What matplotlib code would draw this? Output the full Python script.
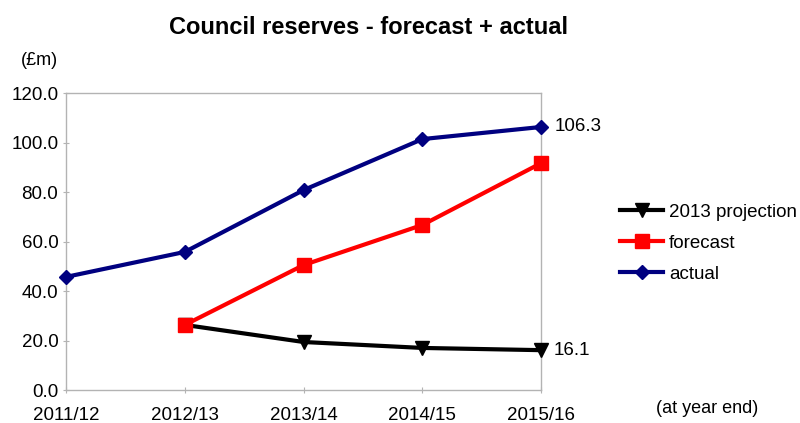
import matplotlib
matplotlib.use("Agg")
import matplotlib.pyplot as plt

plt.rcParams['font.family'] = ['Liberation Sans', 'DejaVu Sans']

categories = ["2011/12", "2012/13", "2013/14", "2014/15", "2015/16"]
projection_2013 = [None, 26.3, 19.4, 17.0, 16.1]
forecast = [None, 26.3, 50.5, 66.7, 91.7]
actual = [45.7, 55.8, 80.8, 101.4, 106.3]
yticks = [0, 20, 40, 60, 80, 100, 120]

fig = plt.figure(figsize=(8, 4.23), dpi=100)
ax = fig.add_axes([0.0825, 0.078, 0.594, 0.702])

x = list(range(len(categories)))

def xy(vals):
    xs = [i for i, v in zip(x, vals) if v is not None]
    ys = [v for v in vals if v is not None]
    return xs, ys

xs, ys = xy(projection_2013)
ax.plot(xs, ys, color='black', lw=3, marker='v', ms=10, label='2013 projection', zorder=3, clip_on=False)
xs, ys = xy(forecast)
ax.plot(xs, ys, color='#ff0000', lw=3, marker='s', ms=10, label='forecast', zorder=4, clip_on=False)
xs, ys = xy(actual)
ax.plot(xs, ys, color='#000080', lw=3, marker='D', ms=7, label='actual', zorder=5, clip_on=False)

ax.set_xlim(0, len(categories) - 1)
ax.set_ylim(0, 120)
ax.set_xticks(x)
ax.set_xticklabels(categories)
ax.set_yticks(yticks)
ax.set_yticklabels([f"{v:.1f}" for v in yticks])
ax.tick_params(axis='both', colors='#b3b3b3', labelcolor='black', labelsize=13.5, length=5, direction='inout')
ax.tick_params(axis='x', pad=10)
ax.tick_params(axis='y', pad=3)
for s in ax.spines.values():
    s.set_color('#b3b3b3')
    s.set_linewidth(1)

ax.annotate(f"{actual[-1]:.1f}", (x[-1], actual[-1]), xytext=(10, 0), textcoords='offset points',
            va='center', ha='left', fontsize=13.5, annotation_clip=False)
ax.annotate(f"{projection_2013[-1]:.1f}", (x[-1], projection_2013[-1]), xytext=(9, 0), textcoords='offset points',
            va='center', ha='left', fontsize=13.5, annotation_clip=False)

fig.text(0.461, 0.936, "Council reserves - forecast + actual", ha='center', va='center',
         fontsize=17, fontweight='bold')
fig.text(0.049, 0.858, "(£m)", ha='center', va='center', fontsize=13)
fig.text(0.884, 0.035, "(at year end)", ha='center', va='center', fontsize=13)

leg = fig.legend(loc='center left', bbox_to_anchor=(0.775, 0.425), frameon=False, fontsize=13.5,
                 handlelength=2.3, handletextpad=0.3, labelspacing=0.75, borderpad=0, borderaxespad=0)

fig.savefig("out.png", dpi=100)
